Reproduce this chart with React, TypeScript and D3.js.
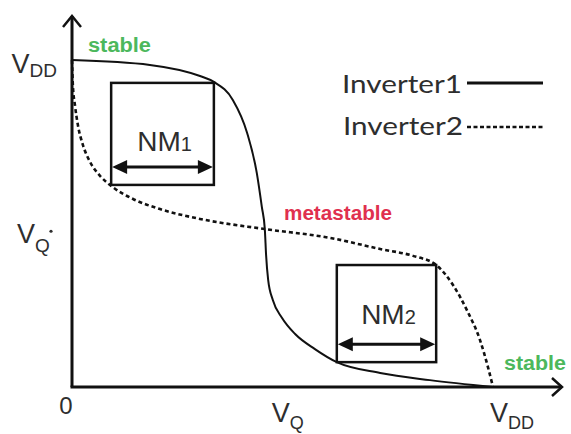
import React from "react";
import * as d3 from "d3";

const W = 571;
const H = 434;

// voltages normalised to VDD = 1
const inverter1X = [0, 0.185, 0.304, 0.337, 0.382, 0.416, 0.439, 0.451, 0.458, 0.461, 0.466, 0.477, 0.499, 0.53, 0.577, 0.629, 0.732, 0.85, 1];
const inverter1Y = [1, 0.985, 0.951, 0.933, 0.878, 0.777, 0.654, 0.55, 0.483, 0.404, 0.327, 0.266, 0.211, 0.162, 0.116, 0.076, 0.043, 0.021, 0];

const inverter2X = [0, 0.002, 0.007, 0.014, 0.026, 0.043, 0.067, 0.093, 0.145, 0.209, 0.304, 0.458, 0.613, 0.732, 0.81, 0.865, 0.905, 0.938, 0.969, 0.988, 1];
const inverter2Y = [1, 0.924, 0.862, 0.801, 0.740, 0.688, 0.645, 0.615, 0.575, 0.544, 0.514, 0.483, 0.456, 0.422, 0.401, 0.373, 0.312, 0.235, 0.144, 0.061, 0];

const vMeta = 0.458;

// noise margin squares: [xLeft, xRight, yBottom, yTop]
const nm1 = [0.093, 0.337, 0.618, 0.93];
const nm2 = [0.629, 0.865, 0.076, 0.373];

const legendLabels = ["Inverter1", "Inverter2"];

const x = d3.scaleLinear().domain([0, 1]).range([72, 493]);
const y = d3.scaleLinear().domain([0, 1]).range([387, 60]);

const lineGen = d3
    .line<[number, number]>()
    .x(d => x(d[0]))
    .y(d => y(d[1]))
    .curve(d3.curveMonotoneX);

const zip = (a: number[], b: number[]) => a.map((v, i) => [v, b[i]] as [number, number]);

const green = "#4cb85c";
const red = "#e0304e";
const ink = "#111";
const textGray = "#2e2e2e";

// double headed arrow across a box
const Arrow = ({ x0, x1, yy }: { x0: number; x1: number; yy: number }) => {
    const L = 15, h = 7;
    return (
        <g>
            <line x1={x0 + L - 2} x2={x1 - L + 2} y1={yy} y2={yy} stroke={ink} strokeWidth={3} />
            <path d={`M${x0},${yy} L${x0 + L},${yy - h} L${x0 + L},${yy + h} Z`} fill={ink} />
            <path d={`M${x1},${yy} L${x1 - L},${yy - h} L${x1 - L},${yy + h} Z`} fill={ink} />
        </g>
    );
};

const NMBox = ({ b, sub, labelDy }: { b: number[]; sub: string; labelDy: number }) => {
    const x0 = x(b[0]), x1 = x(b[1]), yT = y(b[3]), yB = y(b[2]);
    const cx = (x0 + x1) / 2;
    return (
        <g>
            <rect x={x0} y={yT} width={x1 - x0} height={yB - yT} fill="none" stroke={ink} strokeWidth={2.5} />
            <text x={cx + 2} y={yB - labelDy} textAnchor="middle" fontFamily="Liberation Sans, Arial" fontSize={28} fill={textGray}>
                NM<tspan fontSize={20}>{sub}</tspan>
            </text>
            <Arrow x0={x0 + 1} x1={x1 - 1} yy={yB - 18} />
        </g>
    );
};

const App = () => {
    const solid = lineGen(zip(inverter1X, inverter1Y)) || "";
    const dashed = lineGen(zip(inverter2X, inverter2Y)) || "";
    const font = "Liberation Sans, Arial, sans-serif";

    return (
        <svg width={W} height={H} style={{ position: "absolute", left: 0, top: 0, background: "#fff" }}>
            {/* axes */}
            <line x1={x(0)} y1={y(0)} x2={x(0)} y2={16} stroke={ink} strokeWidth={3} />
            <path d={`M${x(0) - 9},27 L${x(0)},16 L${x(0) + 9},27`} fill="none" stroke={ink} strokeWidth={2.5} />
            <line x1={x(0) - 1.5} y1={y(0)} x2={562} y2={y(0)} stroke={ink} strokeWidth={3} />
            <path d={`M552,${y(0) - 9} L562,${y(0)} L552,${y(0) + 9}`} fill="none" stroke={ink} strokeWidth={2.5} />

            {/* curves */}
            <path d={dashed} fill="none" stroke={ink} strokeWidth={2.6} strokeDasharray="4,3" />
            <path d={solid} fill="none" stroke={ink} strokeWidth={2} />

            <NMBox b={nm1} sub="1" labelDy={34} />
            <NMBox b={nm2} sub="2" labelDy={38} />

            {/* y tick labels */}
            <text x={57} y={y(1) + 13} textAnchor="end" fontFamily={font} fontSize={27} fill={textGray}>
                V<tspan fontSize={19} dy={4}>DD</tspan>
            </text>
            <text x={17} y={y(vMeta) + 6} fontFamily={font} fontSize={27} fill={textGray}>
                V<tspan fontSize={19} dy={9}>Q</tspan>
            </text>
            <circle cx={51} cy={y(vMeta) - 6} r={1.6} fill={textGray} />

            {/* x tick labels */}
            <text x={x(0) - 6} y={414} textAnchor="middle" fontFamily={font} fontSize={24} fill={textGray}>0</text>
            <text x={x(vMeta) + 7} y={422} fontFamily={font} fontSize={27} fill={textGray}>
                V<tspan fontSize={18} dy={7}>Q</tspan>
            </text>
            <text x={x(1) - 3} y={422} fontFamily={font} fontSize={27} fill={textGray}>
                V<tspan fontSize={18} dy={7}>DD</tspan>
            </text>

            {/* state annotations */}
            <text x={88} y={52} fontFamily={font} fontWeight="bold" fontSize={20} fill={green} textLength={63} lengthAdjust="spacingAndGlyphs">stable</text>
            <text x={504} y={370} fontFamily={font} fontWeight="bold" fontSize={20} fill={green} textLength={62} lengthAdjust="spacingAndGlyphs">stable</text>
            <text x={284} y={220} fontFamily={font} fontWeight="bold" fontSize={20} fill={red} textLength={108} lengthAdjust="spacingAndGlyphs">metastable</text>

            {/* legend */}
            {legendLabels.map((lab, i) => (
                <g key={lab}>
                    <text x={342 + i} y={93 + i * 42} fontFamily="Lato, Open Sans, sans-serif" fontSize={25} fill={textGray}
                        textLength={120} lengthAdjust="spacingAndGlyphs">
                        {lab}
                    </text>
                    <line x1={467} x2={543} y1={83 + i * 44} y2={83 + i * 44} stroke={ink}
                        strokeWidth={i === 0 ? 3 : 2.5} strokeDasharray={i === 0 ? undefined : "4,2.5"} />
                </g>
            ))}
        </svg>
    );
};

export default App;
